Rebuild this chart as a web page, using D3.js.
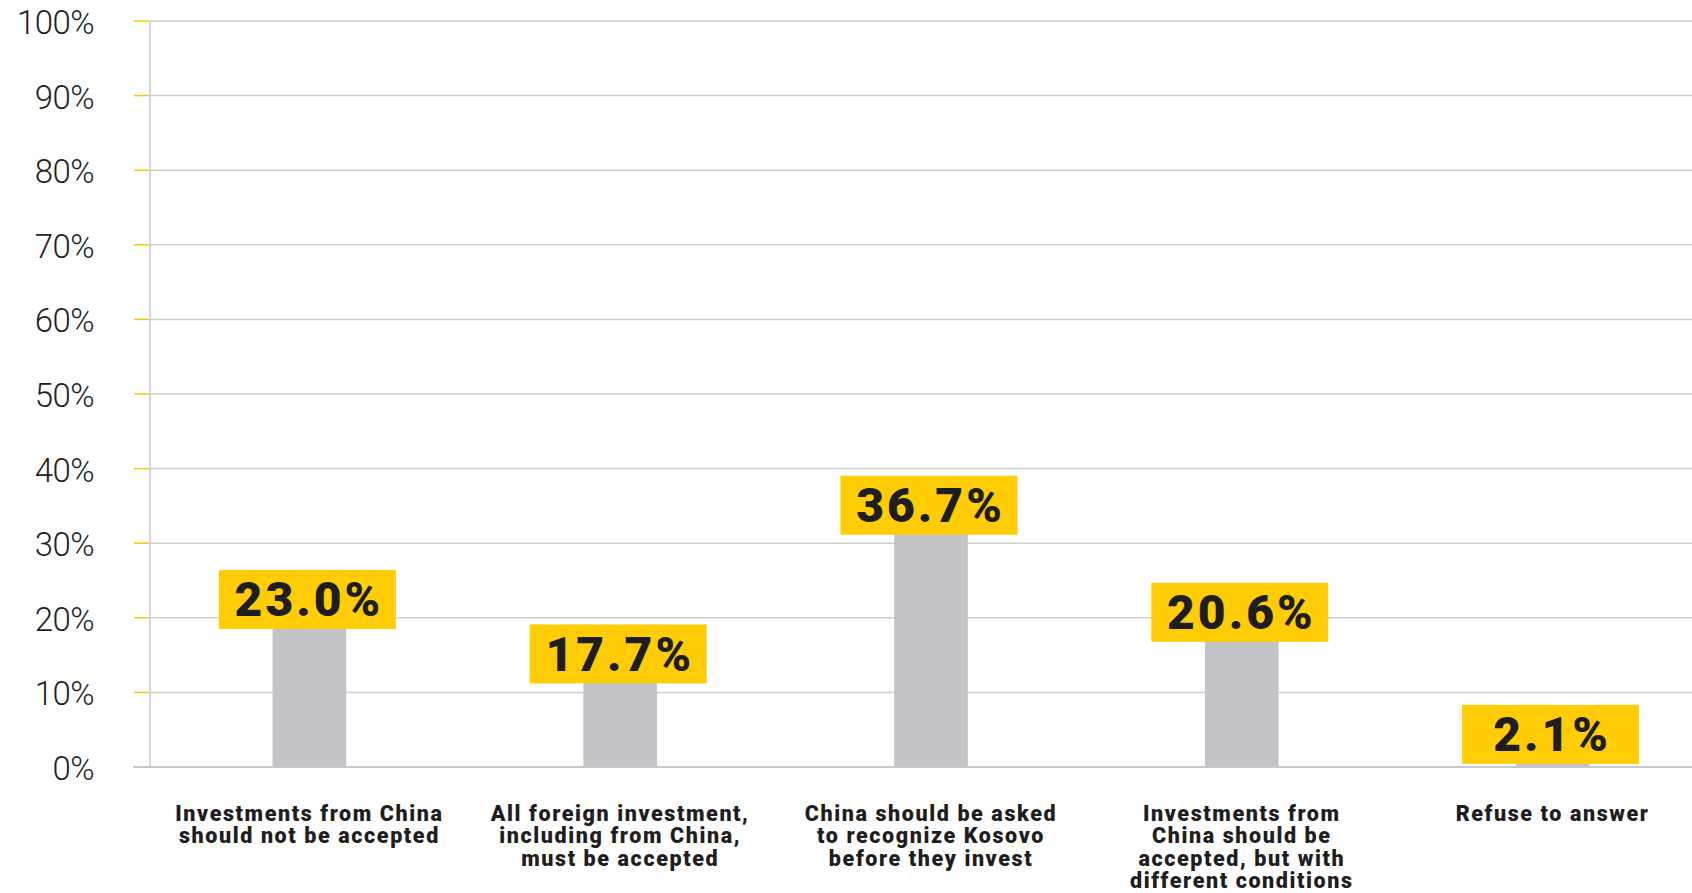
<!DOCTYPE html>
<html>
<head>
<meta charset="utf-8">
<script src="https://cdn.jsdelivr.net/npm/d3@7"></script>
<style>
  html, body { margin: 0; padding: 0; background: #ffffff; }
  svg { display: block; }
</style>
</head>
<body>
<svg id="chart" width="1692" height="893"></svg>
<script>
// Survey answers: attitudes toward Chinese investment
const categories = [
  "Investments from China should not be accepted",
  "All foreign investment, including from China, must be accepted",
  "China should be asked to recognize Kosovo before they invest",
  "Investments from China should be accepted, but with different conditions",
  "Refuse to answer"
];
const categoryLines = [
  ["Investments from China", "should not be accepted"],
  ["All foreign investment,", "including from China,", "must be accepted"],
  ["China should be asked", "to recognize Kosovo", "before they invest"],
  ["Investments from", "China should be", "accepted, but with", "different conditions"],
  ["Refuse to answer"]
];
const shares = [23.0, 17.7, 36.7, 20.6, 2.1];
const tickValues = [0, 10, 20, 30, 40, 50, 60, 70, 80, 90, 100];

// vertical nudge of each value badge relative to its bar top (px)
const badgeNudge = [4, 19, 12, -1, -17];

const W = 1692, H = 893;
const plot = { left: 150, top: 21, bottom: 767, right: W };

const svg = d3.select("#chart");

const x = d3.scaleBand()
  .domain(categories)
  .range([154, 1708])
  .paddingInner(0.763)
  .paddingOuter(0.3815);

const y = d3.scaleLinear()
  .domain([0, 100])
  .range([plot.bottom, plot.top]);

// horizontal gridlines
svg.append("g")
  .selectAll("line")
  .data(tickValues.filter(d => d > 0))
  .join("line")
  .attr("x1", plot.left)
  .attr("x2", plot.right)
  .attr("y1", d => y(d))
  .attr("y2", d => y(d))
  .attr("stroke", "#cfcfcf")
  .attr("stroke-width", 1.5);

// yellow tick marks left of the axis
svg.append("g")
  .selectAll("line")
  .data(tickValues.filter(d => d > 0))
  .join("line")
  .attr("x1", 134)
  .attr("x2", plot.left - 1)
  .attr("y1", d => y(d))
  .attr("y2", d => y(d))
  .attr("stroke", "#f7c90c")
  .attr("stroke-width", 1.5);

// vertical axis line
svg.append("line")
  .attr("x1", plot.left).attr("x2", plot.left)
  .attr("y1", y(100)).attr("y2", y(0))
  .attr("stroke", "#cacaca")
  .attr("stroke-width", 1.5);

// y tick labels
svg.append("g")
  .selectAll("text")
  .data(tickValues)
  .join("text")
  .attr("x", 94)
  .attr("y", d => y(d) + 13)
  .attr("text-anchor", "end")
  .attr("font-family", "Roboto, sans-serif")
  .attr("font-weight", 300)
  .attr("font-size", 33)
  .attr("letter-spacing", -0.6)
  .attr("fill", "#1f1f1f")
  .text(d => d + "%");

// bars
svg.append("g")
  .selectAll("rect")
  .data(shares)
  .join("rect")
  .attr("x", (d, i) => x(categories[i]))
  .attr("width", x.bandwidth())
  .attr("y", d => y(d))
  .attr("height", d => y(0) - y(d))
  .attr("fill", "#c3c4c8");

// baseline
svg.append("line")
  .attr("x1", 133).attr("x2", W)
  .attr("y1", y(0)).attr("y2", y(0))
  .attr("stroke", "#c8c8c8")
  .attr("stroke-width", 2);

// value badges
const badgeW = 177, badgeH = 59;
const badges = svg.append("g")
  .selectAll("g")
  .data(shares)
  .join("g")
  .attr("transform", (d, i) => {
    const cx = x(categories[i]) + x.bandwidth() / 2 - 2;
    const cy = y(d) + badgeNudge[i];
    return `translate(${cx},${cy})`;
  });

badges.append("rect")
  .attr("x", -badgeW / 2)
  .attr("y", -badgeH / 2)
  .attr("width", badgeW)
  .attr("height", badgeH)
  .attr("fill", "#ffcc05");

badges.append("text")
  .attr("x", 1.5)
  .attr("y", 17)
  .attr("text-anchor", "middle")
  .attr("font-family", "Roboto, sans-serif")
  .attr("font-weight", 900)
  .attr("font-size", 48)
  .attr("letter-spacing", 3)
  .attr("fill", "#1e1e1e")
  .text(d => d.toFixed(1) + "%");

// category labels
const labels = svg.append("g")
  .selectAll("text")
  .data(categoryLines)
  .join("text")
  .attr("text-anchor", "middle")
  .attr("font-family", "Roboto, sans-serif")
  .attr("font-weight", 900)
  .attr("font-size", 21.5)
  .attr("letter-spacing", 1.6)
  .attr("fill", "#1e1e1e");

labels.each(function(lines, i) {
  const cx = x(categories[i]) + x.bandwidth() / 2;
  d3.select(this)
    .selectAll("tspan")
    .data(lines)
    .join("tspan")
    .attr("x", cx)
    .attr("y", (l, j) => 820.5 + j * 22.5)
    .text(l => l);
});
</script>
</body>
</html>
